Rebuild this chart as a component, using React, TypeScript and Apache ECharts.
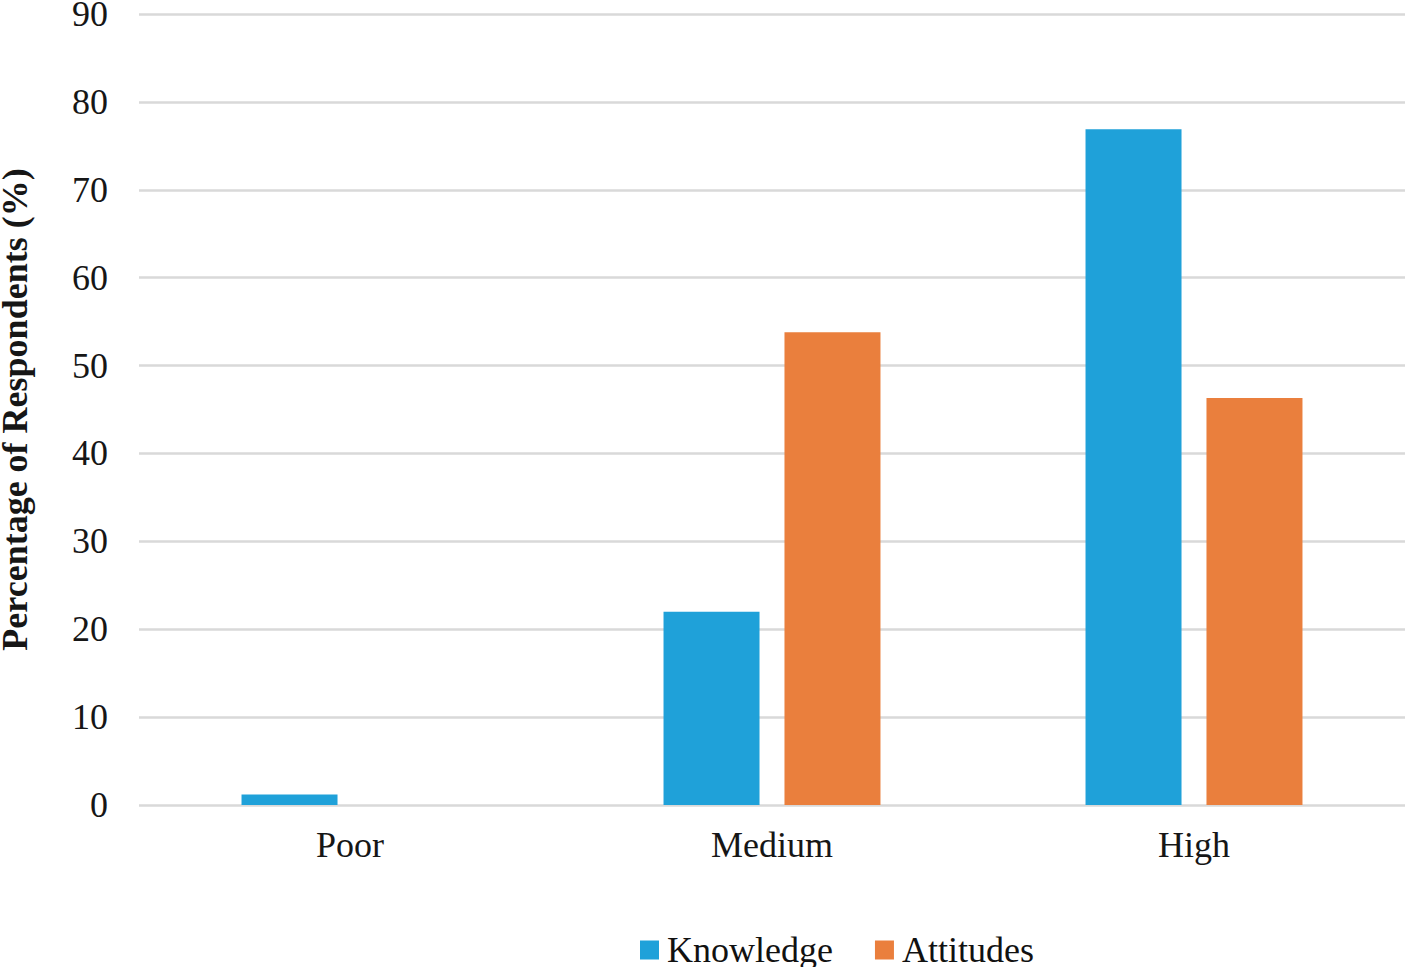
import React, { useEffect, useRef } from "react";
import * as echarts from "echarts";

const categories = ["Poor", "Medium", "High"];
const knowledge = [1.2, 22.0, 76.9];
const attitudes = [0, 53.8, 46.3];
const seriesNames = ["Knowledge", "Attitudes"];
const colors = ["#1FA1D9", "#EA7F3D"];
const FONT = "'Liberation Serif', 'Times New Roman', serif";

export default function App() {
  const ref = useRef<HTMLDivElement>(null);
  useEffect(() => {
    document.body.style.margin = "0";
    const chart = echarts.init(ref.current!, null, { renderer: "svg" });
    chart.setOption({
      animation: false,
      backgroundColor: "#ffffff",
      grid: { left: 139, right: 3, top: 14, bottom: 162, containLabel: false, outerBoundsMode: "none" },
      legend: {
        data: seriesNames,
        left: 640,
        top: 932,
        padding: 0,
        itemWidth: 19,
        itemHeight: 19,
        itemGap: 42,
        icon: "rect",
        textStyle: { fontFamily: FONT, fontSize: 36, lineHeight: 34, color: "#111111", padding: [0, 0, 0, 3] },
      },
      xAxis: {
        type: "category",
        data: categories,
        axisLine: { show: false },
        axisTick: { show: false },
        axisLabel: { fontFamily: FONT, fontSize: 36, color: "#161616", margin: 22 },
      },
      yAxis: {
        type: "value",
        min: 0,
        max: 90,
        interval: 10,
        name: "Percentage of Respondents (%)",
        nameLocation: "middle",
        nameRotate: 90,
        nameGap: 106,
        nameTextStyle: { fontFamily: FONT, fontSize: 36, fontWeight: "bold", color: "#161616" },
        axisLine: { show: false },
        axisTick: { show: false },
        axisLabel: { fontFamily: FONT, fontSize: 36, color: "#161616", margin: 31 },
        splitLine: { lineStyle: { color: "#D9D9D9", width: 2.5 } },
      },
      series: [
        {
          name: seriesNames[0],
          type: "bar",
          data: knowledge,
          barWidth: 96,
          barGap: "26%",
          itemStyle: { color: colors[0] },
        },
        {
          name: seriesNames[1],
          type: "bar",
          data: attitudes,
          barWidth: 96,
          barGap: "26%",
          itemStyle: { color: colors[1] },
        },
      ],
    });
    return () => chart.dispose();
  }, []);
  return <div ref={ref} style={{ width: 1408, height: 967, position: "absolute", left: 0, top: 0 }} />;
}
